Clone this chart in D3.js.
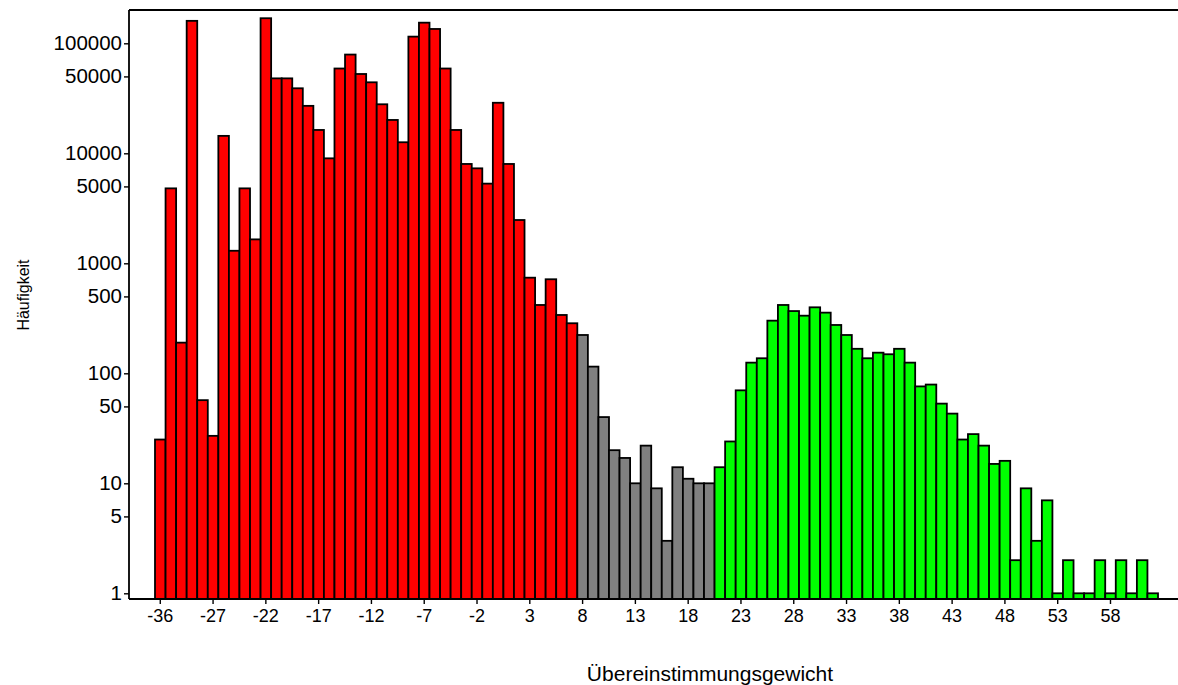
<!DOCTYPE html>
<html>
<head>
<meta charset="utf-8">
<script src="https://cdn.jsdelivr.net/npm/d3@7"></script>
<style>
  body { margin: 0; background: #fff; }
  svg { display: block; font-family: Arial, "Liberation Sans", sans-serif; }
  .tick line { stroke: #000; stroke-width: 1.4; }
  .tick text { fill: #000; }
</style>
</head>
<body>
<svg id="chart" width="1178" height="685"></svg>
<script>
// category labels (bins present in the data)
const weights = [-36, -32, -31, -29, -28];
for (let w = -27; w <= 62; w++) weights.push(w);

// frequencies per bin
const counts = [
  25, 4800, 190, 160000, 57,
  27, 14400, 1300, 4800, 1650, 169000, 48000, 48000, 39000, 27000,
  16300, 9000, 59000, 79000, 52600, 44200, 27900, 20100, 12600, 115000,
  154000, 135000, 59000, 16300, 8000, 7300, 5300, 28800, 8000, 2475,
  740, 418, 716, 339, 285,
  223, 115, 40, 20, 17, 10, 22, 9, 3, 14, 11, 10, 10,
  14, 24, 70, 125, 137, 301, 418, 368, 334, 398, 356, 275, 223, 167,
  137, 154, 149, 167, 125, 76, 79, 53, 43, 25, 28, 22, 15, 16,
  2, 9, 3, 7, 1, 2, 1, 1, 2, 1, 2, 1, 2, 1
];

const yTicks = [1, 5, 10, 50, 100, 500, 1000, 5000, 10000, 50000, 100000];
const xTickEvery = 5;

const greyFrom = 8, greenFrom = 21;
const colorOf = w => w < greyFrom ? "#ff0000" : (w < greenFrom ? "#808080" : "#00ff00");

const data = weights.map((w, i) => ({ w: w, n: counts[i] }));

const svg = d3.select("#chart");
const plotLeft = 129, plotTop = 10, plotRight = 1178, plotBottom = 599;

const x = d3.scaleBand()
  .domain(weights)
  .range([155, 1158])
  .padding(0);

const y = d3.scaleLog()
  .domain([1, 100000])
  .range([593.3, 43.3]);

// bars
svg.append("g")
  .selectAll("rect")
  .data(data)
  .enter().append("rect")
  .attr("x", d => x(d.w))
  .attr("y", d => y(d.n))
  .attr("width", x.bandwidth())
  .attr("height", d => plotBottom - y(d.n))
  .attr("fill", d => colorOf(d.w))
  .attr("stroke", "#000")
  .attr("stroke-width", 1.8);

// frame
svg.append("line").attr("x1", plotLeft).attr("x2", plotLeft).attr("y1", plotTop).attr("y2", plotBottom)
  .attr("stroke", "#000").attr("stroke-width", 1.8);
svg.append("line").attr("x1", plotLeft).attr("x2", plotRight).attr("y1", plotTop).attr("y2", plotTop)
  .attr("stroke", "#000").attr("stroke-width", 1.8);
svg.append("line").attr("x1", plotLeft).attr("x2", plotRight).attr("y1", plotBottom).attr("y2", plotBottom)
  .attr("stroke", "#000").attr("stroke-width", 1.8);

// y axis
const yAxis = svg.append("g")
  .attr("transform", `translate(${plotLeft},0)`)
  .call(d3.axisLeft(y).tickValues(yTicks).tickFormat(d3.format("d")).tickSize(5).tickPadding(2));
yAxis.select(".domain").remove();
yAxis.selectAll("text").style("font-size", "20.5px");

// x axis
const xAxis = svg.append("g")
  .attr("transform", `translate(0,${plotBottom})`)
  .call(d3.axisBottom(x)
    .tickValues(weights.filter((w, i) => i % xTickEvery === 0))
    .tickSize(5).tickPadding(5));
xAxis.select(".domain").remove();
xAxis.selectAll("text").style("font-size", "18px");

// titles
svg.append("text")
  .attr("transform", "translate(29,295) rotate(-90)")
  .attr("text-anchor", "middle")
  .style("font-size", "16px")
  .text("Häufigkeit");

svg.append("text")
  .attr("x", 710)
  .attr("y", 681)
  .attr("text-anchor", "middle")
  .style("font-size", "21px")
  .text("Übereinstimmungsgewicht");
</script>
</body>
</html>
